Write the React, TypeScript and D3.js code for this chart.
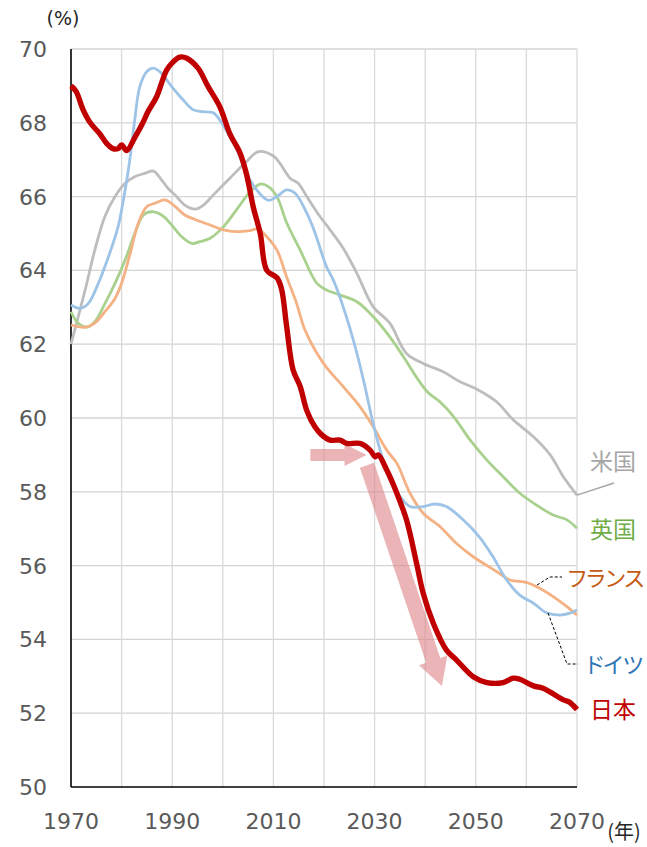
import React from "react";
import * as d3 from "d3";

const years = [1970, 2070];
const yTicks = [50, 52, 54, 56, 58, 60, 62, 64, 66, 68, 70];
const xGrid = [1970, 1980, 1990, 2000, 2010, 2020, 2030, 2040, 2050, 2060, 2070];
const xLabels = [1970, 1990, 2010, 2030, 2050, 2070];

type P = [number, number];

const japan: P[] = [
  [1970, 69.0], [1971, 68.85], [1972.4, 68.35], [1973.8, 68.0], [1975.7, 67.7], [1977, 67.45],
  [1978.3, 67.3], [1979.3, 67.3], [1980, 67.4], [1981, 67.25], [1982.6, 67.6], [1984.2, 68.0],
  [1985.2, 68.3], [1986.9, 68.7], [1988.9, 69.43], [1990.2, 69.65], [1991.5, 69.78], [1992.9, 69.75],
  [1995.1, 69.48], [1997.1, 68.98], [1999.4, 68.44], [2001.4, 67.7], [2003.4, 67.18], [2004.7, 66.6],
  [2006, 65.73], [2007.4, 65.0], [2008.7, 64.0], [2010.7, 63.8], [2011.6, 63.5], [2012.6, 62.5],
  [2013.9, 61.3], [2015.3, 60.85], [2016.6, 60.2], [2018.2, 59.76], [2019.5, 59.55], [2021.2, 59.4],
  [2023.2, 59.4], [2024.5, 59.31], [2027.1, 59.31], [2029.1, 59.13], [2030.1, 58.95], [2030.7, 59.0],
  [2032.4, 58.59], [2034.4, 57.96], [2036.3, 57.24], [2038.3, 56.06], [2039.6, 55.25], [2041.6, 54.44],
  [2044.2, 53.71], [2046.2, 53.44], [2049.5, 52.99], [2052.2, 52.83], [2055.4, 52.83], [2057.4, 52.95],
  [2058.7, 52.92], [2061.4, 52.74], [2063.4, 52.67], [2067.3, 52.36], [2068.5, 52.3], [2070, 52.1],
];

const usa: P[] = [
  [1970, 62.0], [1972.8, 63.47], [1974.7, 64.55], [1976.7, 65.46], [1978.7, 66.0], [1980.7, 66.36],
  [1982.6, 66.54], [1984.6, 66.63], [1986.3, 66.69], [1987.9, 66.45], [1989.2, 66.22], [1990.6, 66.04],
  [1992.5, 65.77], [1994.5, 65.66], [1996, 65.75], [1998.1, 66.04], [2001.4, 66.5], [2004.7, 66.95],
  [2007, 67.22], [2010, 67.1], [2011.3, 66.9], [2013.3, 66.5], [2014.9, 66.36], [2016.6, 66.0],
  [2019.2, 65.46], [2021.2, 65.1], [2023.8, 64.6], [2026.5, 63.92], [2029.7, 63.02], [2033, 62.57],
  [2036.3, 61.75], [2039.6, 61.48], [2043.6, 61.25], [2046.9, 60.98], [2050.2, 60.78], [2054.1, 60.44],
  [2057.4, 59.95], [2061.4, 59.49], [2064.7, 59.0], [2067.3, 58.41], [2070, 57.91],
];

const uk: P[] = [
  [1970, 62.88], [1971.4, 62.57], [1973.1, 62.46], [1974.7, 62.61], [1976.7, 63.1], [1978.7, 63.65],
  [1980.7, 64.28], [1982.6, 65.0], [1984.3, 65.5], [1985.9, 65.59], [1987.9, 65.5], [1989.9, 65.23],
  [1991.9, 64.91], [1993.9, 64.73], [1995.5, 64.78], [1997.5, 64.87], [2000.1, 65.18], [2002.7, 65.64],
  [2005.4, 66.13], [2007.4, 66.34], [2009, 66.27], [2010.7, 66.0], [2012.6, 65.3], [2015.3, 64.55],
  [2018.6, 63.65], [2020.5, 63.47], [2023.2, 63.33], [2026.5, 63.15], [2029.7, 62.75], [2033, 62.2],
  [2035.7, 61.66], [2038.3, 61.1], [2040.5, 60.7], [2042.9, 60.44], [2045.6, 60.04], [2048.9, 59.4],
  [2052.2, 58.86], [2055.4, 58.41], [2058.7, 57.96], [2062, 57.64], [2065.3, 57.37], [2068, 57.24],
  [2070, 57.01],
];

const germany: P[] = [
  [1970, 63.06], [1971.8, 62.97], [1973.4, 63.1], [1975.4, 63.65], [1977.4, 64.37], [1979.3, 65.18],
  [1980.7, 66.18], [1981.7, 67.08], [1982.6, 68.08], [1983.6, 68.98], [1985, 69.39], [1986.3, 69.48],
  [1987.9, 69.34], [1989.9, 68.98], [1991.9, 68.66], [1994.2, 68.35], [1996, 68.3], [1998.1, 68.27],
  [1999.4, 68.08], [2001.4, 67.62], [2002.7, 67.3], [2004.7, 66.63], [2006.7, 66.18], [2009, 65.9],
  [2010.7, 66.0], [2012.6, 66.18], [2014.3, 66.09], [2016.6, 65.55], [2018, 65.1], [2020.5, 64.1],
  [2021.8, 63.75], [2023.2, 63.25], [2025.8, 62.11], [2027.8, 61.03], [2029.7, 59.86], [2031.7, 58.86],
  [2034.4, 58.0], [2037, 57.6], [2039.6, 57.6], [2042, 57.67], [2044.2, 57.6], [2047.5, 57.24],
  [2050.8, 56.76], [2053.4, 56.24], [2056.1, 55.61], [2058.7, 55.2], [2061.4, 54.98], [2064, 54.72],
  [2066.6, 54.66], [2068.6, 54.71], [2070, 54.8],
];

const france: P[] = [
  [1970, 62.52], [1972.8, 62.46], [1974.7, 62.57], [1976.7, 62.88], [1978.7, 63.24], [1980, 63.65],
  [1981.7, 64.46], [1983.3, 65.28], [1985, 65.73], [1986.6, 65.82], [1988.6, 65.91], [1990.6, 65.73],
  [1992.5, 65.5], [1994.5, 65.38], [1997.5, 65.23], [2000.1, 65.1], [2002.7, 65.05], [2005.4, 65.08],
  [2007, 65.12], [2008.7, 64.91], [2010.7, 64.55], [2012.6, 63.83], [2014.6, 63.1], [2016.2, 62.4],
  [2019.9, 61.48], [2023.8, 60.85], [2027.1, 60.31], [2029.7, 59.77], [2032.4, 59.13], [2034.4, 58.77],
  [2037, 57.96], [2039.6, 57.42], [2042.9, 57.06], [2046.2, 56.6], [2049.5, 56.24], [2054.1, 55.84],
  [2056.8, 55.61], [2060.1, 55.54], [2062.7, 55.38], [2065.3, 55.16], [2068, 54.89], [2070, 54.66],
];

const W = 647;
const H = 847;

export default function App() {
  const x = d3.scaleLinear().domain(years).range([71, 577]);
  const y = d3.scaleLinear().domain([50, 70]).range([787, 49]);
  const line = d3
    .line<P>()
    .x((d) => x(d[0]))
    .y((d) => y(d[1]))
    .curve(d3.curveCatmullRom.alpha(0.5));

  const tickFont = "DejaVu Sans, Verdana, sans-serif";
  const jpFont = "'Noto Sans CJK JP', sans-serif";

  // arrow polygon in pixel space
  const arrow = (x0: number, y0: number, x1: number, y1: number, sw: number, hw: number, hl: number) => {
    const dx = x1 - x0;
    const dy = y1 - y0;
    const len = Math.hypot(dx, dy);
    const ux = dx / len;
    const uy = dy / len;
    const nx = -uy;
    const ny = ux;
    const bx = x1 - ux * hl;
    const by = y1 - uy * hl;
    const pts = [
      [x0 + nx * sw, y0 + ny * sw],
      [bx + nx * sw, by + ny * sw],
      [bx + nx * hw, by + ny * hw],
      [x1, y1],
      [bx - nx * hw, by - ny * hw],
      [bx - nx * sw, by - ny * sw],
      [x0 - nx * sw, y0 - ny * sw],
    ];
    return pts.map((p) => p.join(",")).join(" ");
  };

  const series = [
    { data: usa, color: "#BDBDBD", w: 2.8 },
    { data: uk, color: "#A9D18E", w: 2.8 },
    { data: france, color: "#F4B183", w: 2.8 },
    { data: germany, color: "#9DC3E6", w: 2.8 },
  ];

  return (
    <svg
      width={W}
      height={H}
      style={{ position: "absolute", left: 0, top: 0, background: "#fff" }}
    >
      <rect width={W} height={H} fill="#fff" />
      {/* grid */}
      {yTicks.slice(1).map((t) => (
        <line key={"h" + t} x1={x(1970)} x2={x(2070)} y1={y(t)} y2={y(t)} stroke="#D4D4D4" strokeWidth={1.3} />
      ))}
      {xGrid.slice(1).map((t) => (
        <line key={"v" + t} x1={x(t)} x2={x(t)} y1={y(70)} y2={y(50)} stroke="#D9D9D9" strokeWidth={1.3} />
      ))}
      {/* axes */}
      <line x1={x(1970)} x2={x(2070)} y1={y(50)} y2={y(50)} stroke="#000" strokeWidth={1.6} />
      <line x1={x(1970)} x2={x(1970)} y1={y(70)} y2={y(50)} stroke="#000" strokeWidth={1.6} />

      {/* tick labels */}
      {yTicks.map((t) => (
        <text key={"yl" + t} x={47} y={y(t)} dy="0.36em" textAnchor="end" fontFamily={tickFont} fontSize={22} fill="#595959">
          {t}
        </text>
      ))}
      {xLabels.map((t) => (
        <text key={"xl" + t} x={x(t)} y={829} textAnchor="middle" fontFamily={tickFont} fontSize={22} fill="#595959">
          {t}
        </text>
      ))}
      <text x={63} y={25} textAnchor="middle" fontFamily={tickFont} fontSize={19} fill="#262626">(%)</text>
      <text x={624} y={839} textAnchor="middle" fontFamily={jpFont} fontSize={20} fill="#262626">(年)</text>

      {/* series */}
      {series.map((s, i) => (
        <path key={i} d={line(s.data) || ""} fill="none" stroke={s.color} strokeWidth={s.w} strokeLinejoin="round" />
      ))}

      {/* arrows */}
      <polygon
        points={arrow(x(2017.3), y(59.0), x(2028.4), y(59.0), 6, 11, 22)}
        fill="rgb(222,130,134)"
        opacity={0.6}
      />
      <polygon
        points={arrow(x(2028.5), y(58.72), x(2043.3), y(52.74), 7.5, 15, 27)}
        fill="rgb(222,130,134)"
        opacity={0.6}
      />

      <path d={line(japan) || ""} fill="none" stroke="#C00000" strokeWidth={5.4} strokeLinejoin="round" />

      {/* leader lines */}
      <line x1={x(2070)} y1={y(57.91)} x2={614} y2={483} stroke="#A6A6A6" strokeWidth={1.5} />
      <polyline points={`537,585 550,577 562,577`} fill="none" stroke="#000" strokeWidth={1} strokeDasharray="3,2" />
      <polyline points={`548,613 567,664 578,664`} fill="none" stroke="#000" strokeWidth={1} strokeDasharray="3,2" />

      {/* labels */}
      <text x={590} y={462} dy="0.36em" fontFamily={jpFont} fontSize={23} fill="#A6A6A6">米国</text>
      <text x={590} y={530} dy="0.36em" fontFamily={jpFont} fontSize={23} fill="#70AD47">英国</text>
      <text x={568} y={578} dy="0.36em" fontFamily={jpFont} fontSize={22} fill="#C55A11" style={{ fontFeatureSettings: '"palt"' }}>フランス</text>
      <text x={586} y={665} dy="0.36em" fontFamily={jpFont} fontSize={22} fill="#2E75B6" style={{ fontFeatureSettings: '"palt"' }}>ドイツ</text>
      <text x={590} y={710} dy="0.36em" fontFamily={jpFont} fontSize={23} fill="#C00000">日本</text>
    </svg>
  );
}
